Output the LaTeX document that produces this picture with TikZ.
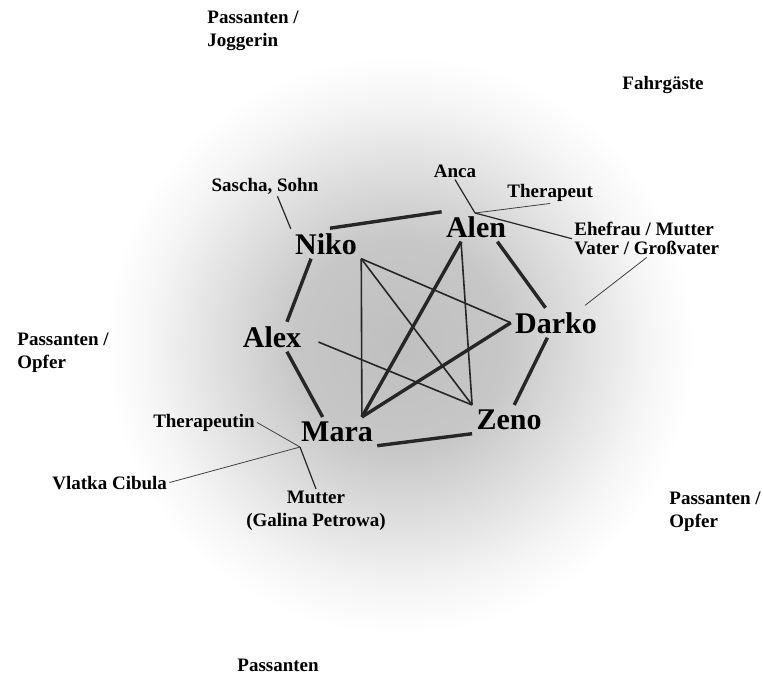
\documentclass[tikz,border=0pt]{standalone}
\usepackage{fontspec}
\setmainfont{Liberation Serif}
\pgfdeclareradialshading{halo}{\pgfpoint{0bp}{0bp}}{color(0bp)=(black!25); color(9bp)=(black!22); color(15bp)=(black!13); color(21bp)=(black!4); color(25bp)=(white); color(50bp)=(white)}
\tikzset{
    person/.style = {font=\fontsize{15}{16}\selectfont\bfseries, inner sep=2pt},
    note/.style = {font=\fontsize{9.5}{11.5}\selectfont\bfseries, inner sep=1pt, align=left},
}
\tikzset{
    strong tie/.style = {draw, black!85, line width=1.7pt},
    weak tie/.style = {draw, black!85, line width=0.8pt},
    label tie/.style = {draw, black!85, line width=0.6pt},
    faint tie/.style = {draw, black!75, line width=0.4pt},
}

\begin{document}
\begin{tikzpicture}[x=0.5pt, y=-0.5pt]
        \useasboundingbox (0,0) rectangle (763,676);
        \shade[shading=halo] (400,345) ellipse [x radius=295, y radius=290];

        \node[person, anchor=base] (niko) at (326,254) {Niko};
        \node[person, anchor=base] (alen) at (476,237) {Alen};
        \node[person, anchor=base] (darko) at (556,333) {Darko};
        \node[person, anchor=base] (alex) at (272,347) {Alex};
        \node[person, anchor=base] (mara) at (337,441) {Mara};
        \node[person, anchor=base] (zeno) at (509,429) {Zeno};

        \node[note, anchor=base] (sascha) at (265,191) {Sascha, Sohn};
        \node[note, anchor=base] (anca) at (455,177) {Anca};
        \node[note, anchor=base west] (therapeut) at (505,197) {Therapeut};
        \node[note, anchor=north west] (ehefrau) at (572,220) {Ehefrau / Mutter\\[-2pt]Vater / Großvater};
        \node[note, anchor=base east] (therapeutin) at (257,427) {Therapeutin};
        \node[note, anchor=base west] (vlatka) at (50,489) {Vlatka Cibula};
        \node[note, anchor=north, align=center] (mutter) at (316,489) {Mutter\\(Galina Petrowa)};

        \node[note, anchor=north west] (joggerin) at (205,9) {Passanten /\\Joggerin};
        \node[note, anchor=base west] (fahrgaeste) at (620,89) {Fahrgäste};
        \node[note, anchor=north west] (opfer links) at (15,331) {Passanten /\\Opfer};
        \node[note, anchor=north west] (opfer rechts) at (667,490) {Passanten /\\Opfer};
        \node[note, anchor=base west] (passanten) at (235,671) {Passanten};

        \coordinate (alen ties) at (475,213);
        \coordinate (mara ties) at (300,447);

        % ring
        \draw[strong tie, shorten <=2pt] (niko.north) -- (alen.north west);
        \draw[strong tie] (niko.-135) -- (alex.45);
        \draw[strong tie] (alex.-45) -- (mara.135);
        \draw[strong tie] (mara.south east) -- (zeno.south west);
        \draw[strong tie] (zeno.70) -- (darko.-120);
        \draw[strong tie] (darko.125) -- (alen.-35);

        % cross links
        \draw[weak tie] (niko.south east) -- (mara.30);
        \draw[weak tie] (niko.south east) -- (darko.west);
        \draw[weak tie] (niko.south east) -- (zeno.north west);
        \draw[strong tie] (alen.-135) -- (mara.30);
        \draw[weak tie] (alen.-135) -- (zeno.north west);
        \draw[strong tie] (mara.30) -- (darko.west);
        \draw[weak tie, shorten <=7pt] (alex.east) -- (zeno.north west);

        % side figures
        \draw[label tie] (sascha.-40) -- (niko.north west);
        \draw[label tie] (anca.south) -- (alen ties);
        \draw[faint tie] (alen ties) -- (therapeut.south);
        \draw[label tie] (alen ties) -- (ehefrau.west);
        \draw[faint tie, shorten >=2pt] (ehefrau.south) -- (darko.30);
        \draw[faint tie] (therapeutin.east) -- (mara ties);
        \draw[faint tie] (vlatka.east) -- (mara ties);
        \draw[label tie] (mutter.north) -- (mara ties);
    \end{tikzpicture}
\end{document}
